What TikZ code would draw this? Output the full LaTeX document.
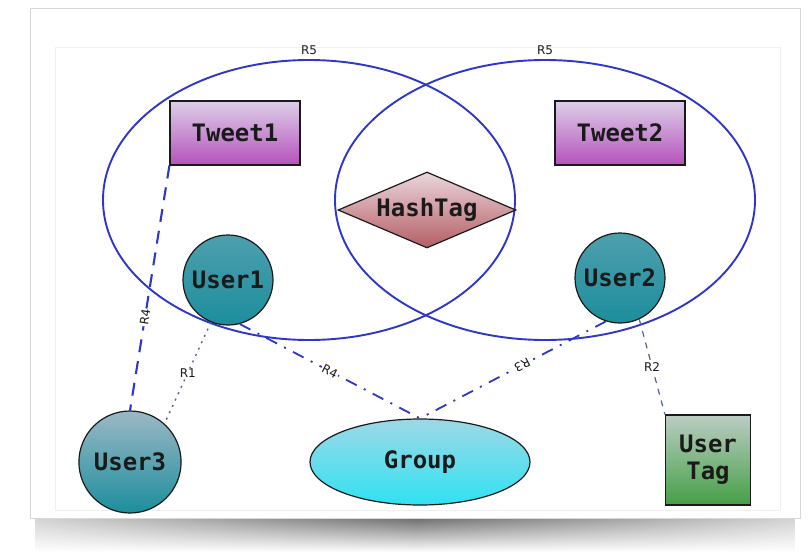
\documentclass[tikz,border=0pt]{standalone}
\usepackage{fontspec}
\setmainfont{DejaVu Sans}
\newfontfamily\gothfont{DejaVu Sans Mono}
\usetikzlibrary{positioning,shapes.geometric,fadings}
\definecolor{erdInk}{HTML}{1A1A1A}
\definecolor{erdBlue}{HTML}{2E36CC}
\definecolor{erdDot}{HTML}{5560A8}
\definecolor{erdFrame}{HTML}{D8D8D8}
\definecolor{tweetTop}{HTML}{DCCFE8}
\definecolor{tweetBot}{HTML}{B552BC}
\definecolor{hashTop}{HTML}{EAD6DC}
\definecolor{hashBot}{HTML}{B45E64}
\definecolor{userTop}{HTML}{4E9FAE}
\definecolor{userBot}{HTML}{1C8E9C}
\definecolor{userPale}{HTML}{9CB8C6}
\definecolor{groupTop}{HTML}{9ED8E6}
\definecolor{groupBot}{HTML}{2FE2F2}
\definecolor{tagTop}{HTML}{BCCCC4}
\definecolor{tagBot}{HTML}{44A046}
\tikzfading[name=fade sides, left color=transparent!70, right color=transparent!70,
  middle color=transparent!0]
\tikzset{
  every picture/.style={text=erdInk},
  erd text/.style={font=\gothfont\bfseries\fontsize{24}{27}\selectfont},
  erd set/.style={draw=erdBlue, line width=1.9pt, ellipse, inner sep=0pt},
  erd tweet/.style={erd text, draw=erdInk, line width=1.2pt, rectangle,
    minimum width=130pt, minimum height=64pt, top color=tweetTop, bottom color=tweetBot},
  erd hash/.style={erd text, draw=erdInk, line width=1.2pt, diamond, shape aspect=2.4,
    inner sep=1pt, minimum width=178pt, minimum height=76pt,
    top color=hashTop, bottom color=hashBot},
  erd user/.style={erd text, draw=erdInk, line width=1.2pt, circle, inner sep=0pt,
    minimum size=90pt, top color=userTop, bottom color=userBot},
  erd oval/.style={erd text, draw=erdInk, line width=1.2pt, ellipse, inner sep=0pt},
  erd tag/.style={erd text, draw=erdInk, line width=1.2pt, rectangle, align=center,
    minimum width=85pt, minimum height=90pt, top color=tagTop, bottom color=tagBot},
  rel label/.style={font=\fontsize{12}{14}\selectfont, fill=white, inner sep=1pt},
  rel dash/.style={draw=erdBlue, line width=2.1pt, dash pattern=on 13pt off 9pt},
  rel dot/.style={draw=erdDot, line width=1.4pt, dash pattern=on 2pt off 5pt},
  rel dashdot/.style={draw=erdBlue, line width=1.8pt, dash pattern=on 12pt off 8pt on 2pt off 8pt},
  rel light/.style={draw=erdDot, line width=1.2pt, dash pattern=on 6pt off 6pt}
}

\begin{document}
\begin{tikzpicture}[x=1pt,y=-1pt]
  \useasboundingbox (0,0) rectangle (812,560);
  % card and its shadow
  \shade[top color=black!60, bottom color=white, path fading=fade sides] (36,516) rectangle (796,552);
  \fill[white] (30,8) rectangle (800,518);
  \draw[erdFrame, line width=0.8pt] (30,8) rectangle (800,518);
  \draw[black!6, line width=0.8pt] (55,47) rectangle (780,510);
  % the two sets
  \node[erd set, minimum width=412pt, minimum height=280pt] (setA) at (309,200) {};
  \node[erd set, minimum width=420pt, minimum height=280pt] (setB) at (545,200) {};
  \node[font=\fontsize{12}{14}\selectfont, above=1pt] (labelA) at (setA.north) {R5};
  \node[font=\fontsize{12}{14}\selectfont, above=1pt] (labelB) at (setB.north) {R5};
  % entities
  \node[erd tweet] (tweetA) at (235,133) {Tweet1};
  \node[erd tweet] (tweetB) at (620,133) {Tweet2};
  \node[erd hash] (hashtag) at (427,210) {HashTag};
  \node[erd user] (user1) at (228,280) {User1};
  \node[erd user] (user2) at (620,278) {User2};
  \node[erd oval, minimum width=96pt, minimum height=102pt,
    top color=userPale, bottom color=userBot] (user3) at (130,462) {User3};
  \node[erd oval, minimum width=220pt, minimum height=86pt,
    top color=groupTop, bottom color=groupBot] (group) at (420,462) {Group};
  \node[erd tag] (usertag) at (708,460) {User\\Tag};
  % relations
  \draw[rel dash] (tweetA.south west) -- node[rel label, sloped, pos=0.62] {R4} (user3.north);
  \draw[rel dot] (user1.-112) -- node[rel label] {R1} (user3.48);
  \draw[rel dashdot] (user1.-75) -- node[rel label, sloped, pos=0.5] {R4} (group.north);
  \draw[rel dashdot] (user2.-108) -- node[rel label, sloped, allow upside down, pos=0.45] {R3} (group.north);
  \draw[rel light] (user2.-65) -- node[rel label] {R2} (usertag.north west);
\end{tikzpicture}
\end{document}
